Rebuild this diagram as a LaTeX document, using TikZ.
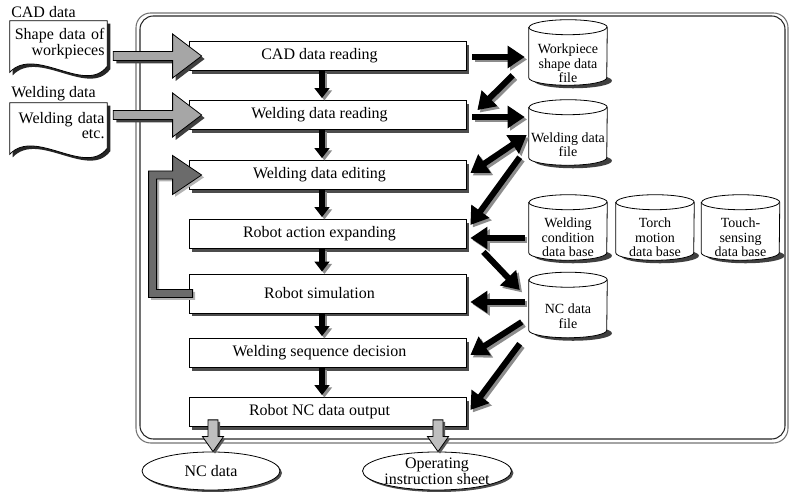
\documentclass[tikz,border=0pt]{standalone}
\usepackage{fontspec}
\setmainfont{Liberation Serif}
\usetikzlibrary{arrows.meta,calc,shadows,shapes.geometric}
\pgfdeclarelayer{bg}
\pgfsetlayers{bg,main}

\newcommand\dbcyl[1]{%
  \fill[black!75] ($(#1.south)+(5,4.5)$) ellipse [x radius=39, y radius=7.5];
  \draw[line width=0.6pt, fill=white] ($(#1.north west)+(0,-7.5)$) -- ($(#1.south west)+(0,7.5)$)
    arc[start angle=180, end angle=360, x radius=39, y radius=7.5] -- ($(#1.north east)+(0,-7.5)$)
    arc[start angle=0, end angle=180, x radius=39, y radius=7.5] -- cycle;
  \draw[line width=0.6pt] ($(#1.north west)+(0,-7.5)$) arc[start angle=180, end angle=360, x radius=39, y radius=7.5];
}
\newcommand\docshape[1]{%
  \begin{pgfonlayer}{bg}
  \fill[black!85, transform canvas={shift={(2.25pt,-2.25pt)}}] (#1.north west) -- (#1.north east) -- (#1.south east)
    .. controls ($(#1.south east)+(-22,-29)$) and ($(#1.south east)+(-72,21)$) .. ($(#1.south west)+(0,-6)$) -- cycle;
  \draw[line width=0.6pt, fill=white] (#1.north west) -- (#1.north east) -- (#1.south east)
    .. controls ($(#1.south east)+(-22,-29)$) and ($(#1.south east)+(-72,21)$) .. ($(#1.south west)+(0,-6)$) -- cycle;
  \end{pgfonlayer}
}
\newcommand\inarrow[2]{%
  \fill[black!75, transform canvas={shift={(2.25pt,-2.25pt)}}] let \p1=(#1), \p2=(#2) in
    (\x1,\y2+3.375pt) -- (\x2-21.75pt,\y2+3.375pt) -- (\x2-21.75pt,\y2+16.5pt) -- (\x2,\y2)
    -- (\x2-21.75pt,\y2-16.5pt) -- (\x2-21.75pt,\y2-3.375pt) -- (\x1,\y2-3.375pt) -- cycle;
  \draw[line width=0.6pt, fill=black!35] let \p1=(#1), \p2=(#2) in
    (\x1,\y2+3.375pt) -- (\x2-21.75pt,\y2+3.375pt) -- (\x2-21.75pt,\y2+16.5pt) -- (\x2,\y2)
    -- (\x2-21.75pt,\y2-16.5pt) -- (\x2-21.75pt,\y2-3.375pt) -- (\x1,\y2-3.375pt) -- cycle;
}
\newcommand\outarrow[2]{%
  \fill[black!65, transform canvas={shift={(1.5pt,-1.5pt)}}] let \p1=(#1), \p2=(#2) in
    (\x1-3.75pt,\y1) -- (\x1-3.75pt,\y2+11.25pt) -- (\x1-7.875pt,\y2+11.25pt) -- (\x1,\y2)
    -- (\x1+7.875pt,\y2+11.25pt) -- (\x1+3.75pt,\y2+11.25pt) -- (\x1+3.75pt,\y1) -- cycle;
  \draw[line width=0.6pt, fill=black!25] let \p1=(#1), \p2=(#2) in
    (\x1-3.75pt,\y1) -- (\x1-3.75pt,\y2+11.25pt) -- (\x1-7.875pt,\y2+11.25pt) -- (\x1,\y2)
    -- (\x1+7.875pt,\y2+11.25pt) -- (\x1+3.75pt,\y2+11.25pt) -- (\x1+3.75pt,\y1) -- cycle;
}
\newcommand\barrow[3]{%
  \draw[#1, black!45, transform canvas={shift={(1.8pt,-1.8pt)}}] (#2) -- (#3);
  \draw[#1, black] (#2) -- (#3);
}

\begin{document}
\begin{tikzpicture}[x=0.75pt,y=0.75pt,
  procbox/.style={draw, fill=white, line width=0.6pt, minimum width=207.75pt, minimum height=21.75pt,
    inner sep=0pt, font=\fontsize{12}{14}\selectfont, execute at end node={\hspace*{12pt}},
    drop shadow={shadow xshift=2.5pt, shadow yshift=-2.5pt, fill=black!70, opacity=1}},
  cylgeo/.style={minimum width=58.5pt, minimum height=48.75pt, inner sep=0pt, draw=none},
  cyltext/.style={align=center, font=\fontsize{10.5}{10.9}\selectfont, inner sep=0pt},
  docnode/.style={minimum width=72.75pt, minimum height=33.75pt, inner sep=0pt, text width=69pt,
    align=right, font=\fontsize{12}{11.5}\selectfont},
  lbl/.style={font=\fontsize{12}{14}\selectfont, inner sep=0pt, anchor=west},
  outell/.style={ellipse, draw, fill=white, line width=0.6pt, inner sep=0pt, align=center,
    font=\fontsize{12}{10.5}\selectfont,
    drop shadow={shadow xshift=1.5pt, shadow yshift=-1.5pt, fill=black!70, opacity=1}},
  blk/.style={line width=4.5pt, -{Triangle[length=12.75pt,width=16pt]}},
  dbl/.style={line width=4.5pt, {Triangle[length=12.75pt,width=16pt]}-{Triangle[length=12.75pt,width=16pt]}},
  dwn/.style={line width=4.5pt, -{Triangle[length=7.5pt,width=11pt]}}
]
\useasboundingbox (0,0) rectangle (790,492);

% frame
\draw[black!55, line width=0.8pt, rounded corners=11pt] (136,49) rectangle (788,479);
\draw[black!85, line width=0.8pt, rounded corners=10pt] (140,53) rectangle (785,476);

% input labels and documents
\node[lbl] (cadlbl) at (11,480) {CAD data};
\node[lbl] (wdlbl) at (11,398) {Welding data};
\node[docnode] (cadoc) at (58.5,448.5) {Shape data of\\workpieces};
\node[docnode] (wddoc) at (58.5,366.5) {Welding data\\etc.};
\docshape{cadoc}
\docshape{wddoc}

% process boxes
\node[procbox] (cad) at (327.5,436) {CAD data reading};
\node[procbox] (wdread) at (327.5,377) {Welding data reading};
\node[procbox] (wdedit) at (327.5,317) {Welding data editing};
\node[procbox] (action) at (327.5,258) {Robot action expanding};
\node[procbox, minimum height=29.25pt] (sim) at (327.5,198.5) {Robot simulation};
\node[procbox] (seq) at (327.5,139) {Welding sequence decision};
\node[procbox] (out) at (327.5,80) {Robot NC data output};

% cylinders
\node[cylgeo] (wsf) at (568,439.5) {};
\node[cylgeo] (wdf) at (568,359.5) {};
\node[cylgeo] (wcdb) at (568,264.5) {};
\node[cylgeo] (tmdb) at (655,264.5) {};
\node[cylgeo] (tsdb) at (740.5,264.5) {};
\node[cylgeo] (ncf) at (568,187) {};
\dbcyl{wsf}
\dbcyl{wdf}
\dbcyl{wcdb}
\dbcyl{tmdb}
\dbcyl{tsdb}
\dbcyl{ncf}
\node[cyltext] (wsft) at ($(wsf.center)+(0,-11)$) {Workpiece\\shape data\\file};
\node[cyltext] (wdft) at ($(wdf.center)+(0,-12)$) {Welding data\\file};
\node[cyltext] (wcdbt) at ($(wcdb.center)+(0,-10)$) {Welding\\condition\\data base};
\node[cyltext] (tmdbt) at ($(tmdb.center)+(0,-10)$) {Torch\\motion\\data base};
\node[cyltext] (tsdbt) at ($(tsdb.center)+(0,-10)$) {Touch-\\sensing\\data base};
\node[cyltext] (ncft) at ($(ncf.center)+(0,-11)$) {NC data\\file};

% output ellipses
\node[outell, minimum width=103.5pt, minimum height=28.5pt] (ncd) at (211,21) {NC data};
\node[outell, minimum width=102pt, minimum height=28.5pt] (ops) at (437,21) {Operating\\instruction sheet};

% down arrows in the main flow
\barrow{dwn}{$(cad.south)+(-5.5,0)$}{$(wdread.north)+(-5.5,2)$}
\barrow{dwn}{$(wdread.south)+(-5.5,0)$}{$(wdedit.north)+(-5.5,2)$}
\barrow{dwn}{$(wdedit.south)+(-5.5,0)$}{$(action.north)+(-5.5,2)$}
\barrow{dwn}{$(action.south)+(-5.5,0)$}{$(sim.north)+(-5.5,2)$}
\barrow{dwn}{$(sim.south)+(-5.5,0)$}{$(seq.north)+(-5.5,2)$}
\barrow{dwn}{$(seq.south)+(-5.5,0)$}{$(out.north)+(-5.5,2)$}

% file arrows
\barrow{blk}{$(cad.east)+(6,-1)$}{$(cad.east -| wsf.west)+(-4,-1)$}
\barrow{blk}{$(wsf.south west)+(-16,10)$}{$(wdread.north east)+(11,-10)$}
\barrow{blk}{$(wdread.east)+(6,-2)$}{$(wdread.east -| wdf.west)+(-4,-2)$}
\barrow{dbl}{$(wdf.west)+(-2,-2.5)$}{$(wdedit.east)+(4,2)$}
\barrow{blk}{$(wdf.south west)+(-9,8)$}{$(action.east)+(4,9)$}
\barrow{blk}{$(action.east -| wcdb.west)+(-4,-4)$}{$(action.east)+(4,-4)$}
\barrow{blk}{$(action.south east)+(17,-3)$}{$(ncf.west)+(-9,15)$}
\barrow{blk}{$(ncf.west)+(-4,3)$}{$(ncf.west -| sim.east)+(4,3)$}
\barrow{blk}{$(ncf.west)+(-7,-17)$}{$(seq.east)+(4,-2)$}
\barrow{blk}{$(ncf.south west)+(-9,-6)$}{$(out.east)+(4,2)$}

% input arrows
\inarrow{$(cadoc.east)+(6,0)$}{$(cad.west)+(13,0)$}
\inarrow{$(wddoc.east)+(6,0)$}{$(wdread.west)+(13,0)$}

% feedback arrow
\fill[black!30, transform canvas={shift={(1.8pt,-1.8pt)}}] let \p1=($(sim.west)+(4,0)$), \p2=($(wdedit.west)+(13,0)$) in
  (\x1,\y1+3pt) -- (\x2-33.75pt,\y1+3pt) -- (\x2-33.75pt,\y2-3pt) -- (\x2-21.75pt,\y2-3pt)
  -- (\x2-21.75pt,\y2-14.625pt) -- (\x2,\y2) -- (\x2-21.75pt,\y2+14.625pt) -- (\x2-21.75pt,\y2+3pt)
  -- (\x2-39.75pt,\y2+3pt) -- (\x2-39.75pt,\y1-3pt) -- (\x1,\y1-3pt) -- cycle;
\draw[line width=0.6pt, fill=black!58] let \p1=($(sim.west)+(4,0)$), \p2=($(wdedit.west)+(13,0)$) in
  (\x1,\y1+3pt) -- (\x2-33.75pt,\y1+3pt) -- (\x2-33.75pt,\y2-3pt) -- (\x2-21.75pt,\y2-3pt)
  -- (\x2-21.75pt,\y2-14.625pt) -- (\x2,\y2) -- (\x2-21.75pt,\y2+14.625pt) -- (\x2-21.75pt,\y2+3pt)
  -- (\x2-39.75pt,\y2+3pt) -- (\x2-39.75pt,\y1-3pt) -- (\x1,\y1-3pt) -- cycle;

% output arrows
\outarrow{$(out.south)+(-114.5,7)$}{ncd.north}
\outarrow{$(out.south)+(110.5,7)$}{ops.north}

\end{tikzpicture}
\end{document}
